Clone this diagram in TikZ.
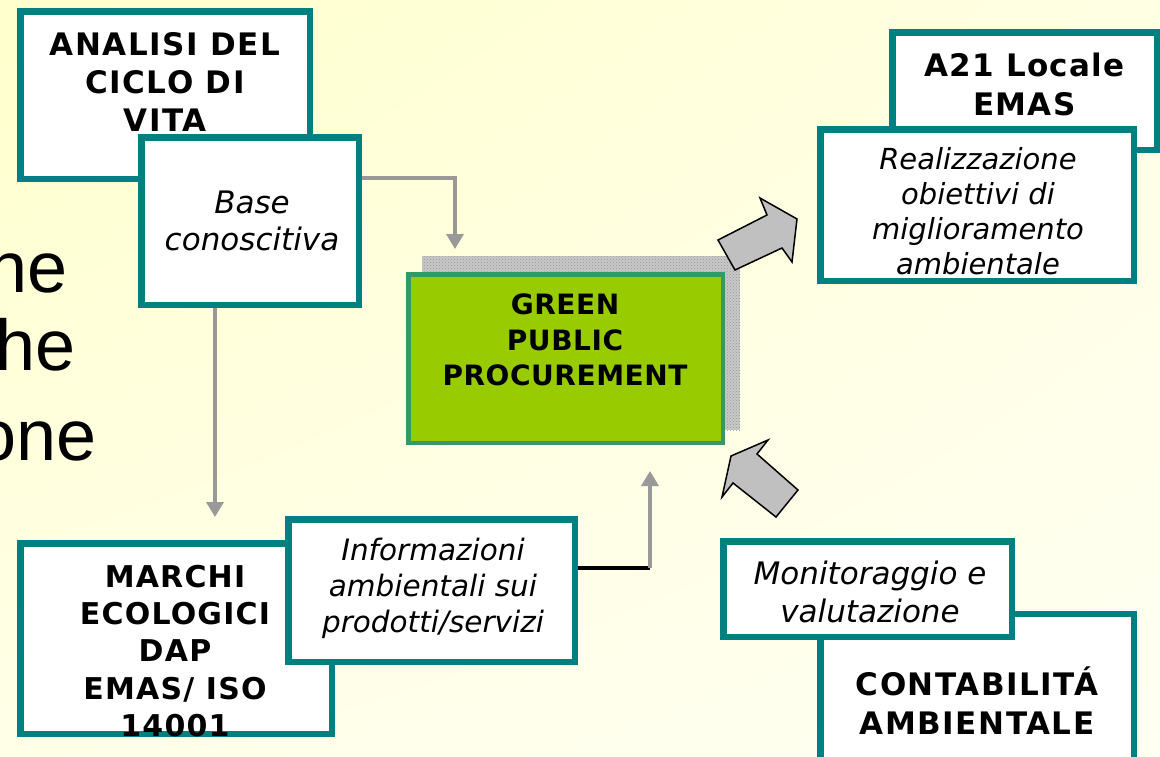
\documentclass[tikz,border=0pt]{standalone}
\usepackage{fontspec}
\setmainfont{DejaVu Sans}
\newfontfamily\arialf{Liberation Sans}
\usetikzlibrary{arrows.meta,patterns,shadings}
\definecolor{tealb}{HTML}{008080}
\definecolor{gppfill}{HTML}{99CC00}
\definecolor{gppline}{HTML}{339966}
\definecolor{conngray}{HTML}{999999}
\definecolor{blockgray}{HTML}{C0C0C0}
\definecolor{shadowgray}{HTML}{C8C8C8}
\definecolor{bgUL}{HTML}{FFFFCC}
\definecolor{bgUR}{HTML}{FFFFE4}
\definecolor{bgLL}{HTML}{FFFFE8}
\definecolor{bgLR}{HTML}{FFFFF2}
\begin{document}
\begin{tikzpicture}[x=1pt,y=-1pt,
  tbox/.style={draw=tealb, line width=6.5pt, fill=white, inner sep=0pt},
  boldtxt/.style={font=\fontsize{31}{38}\selectfont\bfseries\addfontfeatures{LetterSpace=5}, align=center, inner sep=0pt},
  ittxt/.style={font=\fontsize{29}{36}\selectfont\itshape, align=center, inner sep=0pt},
  garrow/.style={draw=conngray, line width=3.5pt, -{Triangle[length=15pt,width=17pt]}},
  blockarrow/.style={draw=black, line width=1.5pt, fill=blockgray, line join=miter},
  bigtxt/.style={font=\arialf\fontsize{72}{80}\selectfont, inner sep=0pt, anchor=base east}]
\useasboundingbox (0,0) rectangle (1160,756);
\shade[upper left=bgUL, upper right=bgUR, lower left=bgLL, lower right=bgLR] (0,0) rectangle (1160,756);

% partially hidden slide text
\node[bigtxt] (ne) at (68,292) {ne};
\node[bigtxt] (he) at (76,370) {he};
\node[bigtxt] (one) at (97,460) {one};

% top left
\node[tbox, minimum width=289.5pt, minimum height=167.5pt] (lca) at (165,95) {};
\node[boldtxt] (lcatxt) at (165,82) {ANALISI DEL\\CICLO DI\\VITA};
\node[tbox, minimum width=217.5pt, minimum height=167.5pt] (base) at (250,221) {};
\node[ittxt, font=\fontsize{31}{37}\selectfont\itshape] (basetxt) at (252,221) {Base\\conoscitiva};

% top right
\node[tbox, minimum width=264.5pt, minimum height=117.5pt] (a21) at (1024.5,91) {};
\node[boldtxt, font=\fontsize{31}{39}\selectfont\bfseries\addfontfeatures{LetterSpace=4}] (a21txt) at (1024.5,84) {A21 Locale\\EMAS};
\node[tbox, minimum width=313.5pt, minimum height=151.5pt] (real) at (977,205) {};
\node[ittxt, font=\fontsize{29}{35}\selectfont\itshape] (realtxt) at (978,211.5) {Realizzazione\\obiettivi di\\miglioramento\\ambientale};

% centre
\node[fill=shadowgray, minimum width=318pt, minimum height=174pt, inner sep=0pt,
      postaction={pattern=crosshatch dots, pattern color=gray!80}] (gppshadow) at (581,343) {};
\node[draw=gppline, line width=4.5pt, fill=gppfill, minimum width=314.5pt, minimum height=168.5pt, inner sep=0pt] (gpp) at (565.5,358.5) {};
\node[font=\fontsize{28}{35.5}\selectfont\bfseries\addfontfeatures{LetterSpace=2}, align=center, inner sep=0pt] (gpptxt) at (565,340) {GREEN\\PUBLIC\\PROCUREMENT};

% bottom left
\node[tbox, minimum width=311.5pt, minimum height=190.5pt] (marchi) at (176,638.5) {};
\node[boldtxt, font=\fontsize{30}{37.25}\selectfont\bfseries\addfontfeatures{LetterSpace=4}] (marchitxt) at (175,651) {MARCHI\\ECOLOGICI\\DAP\\EMAS/ ISO\\14001};
\node[tbox, minimum width=286.5pt, minimum height=142.5pt] (info) at (431.5,590.5) {};
\node[ittxt, font=\fontsize{29.5}{36}\selectfont\itshape] (infotxt) at (433,588.5) {Informazioni\\ambientali sui\\prodotti/servizi};

% bottom right
\node[tbox, minimum width=313.5pt, minimum height=162.5pt] (contab) at (977,695) {};
\node[boldtxt, font=\fontsize{31}{39}\selectfont\bfseries\addfontfeatures{LetterSpace=5}] (contabtxt) at (977,700.5) {CONTABILITÁ\\AMBIENTALE};
\node[tbox, minimum width=288.5pt, minimum height=95.5pt] (monit) at (867.5,589) {};
\node[ittxt, font=\fontsize{31}{38}\selectfont\itshape] (monittxt) at (870,592) {Monitoraggio e\\valutazione};

% connectors
\coordinate (c1end) at (455,249);
\draw[garrow] ([yshift=43pt]base.east) -| (c1end);
\coordinate (c2end) at (215,517);
\draw[garrow] ([xshift=-35pt]base.south) -- (c2end);
\coordinate (c3mid) at (650,568);
\coordinate (c3end) at (650,471);
\draw[black, line width=3.5pt] ([yshift=22.5pt]info.east) -- (c3mid);
\draw[garrow] (c3mid) -- (c3end);

% block arrows
\draw[blockarrow] (718,240) -- (767,215) -- (760,198) -- (797,219) -- (792,262) -- (782,248) -- (735,270) -- cycle;
\draw[blockarrow] (731,456) -- (768,440) -- (757,454) -- (798,490) -- (776,517) -- (733,483) -- (722,497) -- cycle;
\end{tikzpicture}
\end{document}
